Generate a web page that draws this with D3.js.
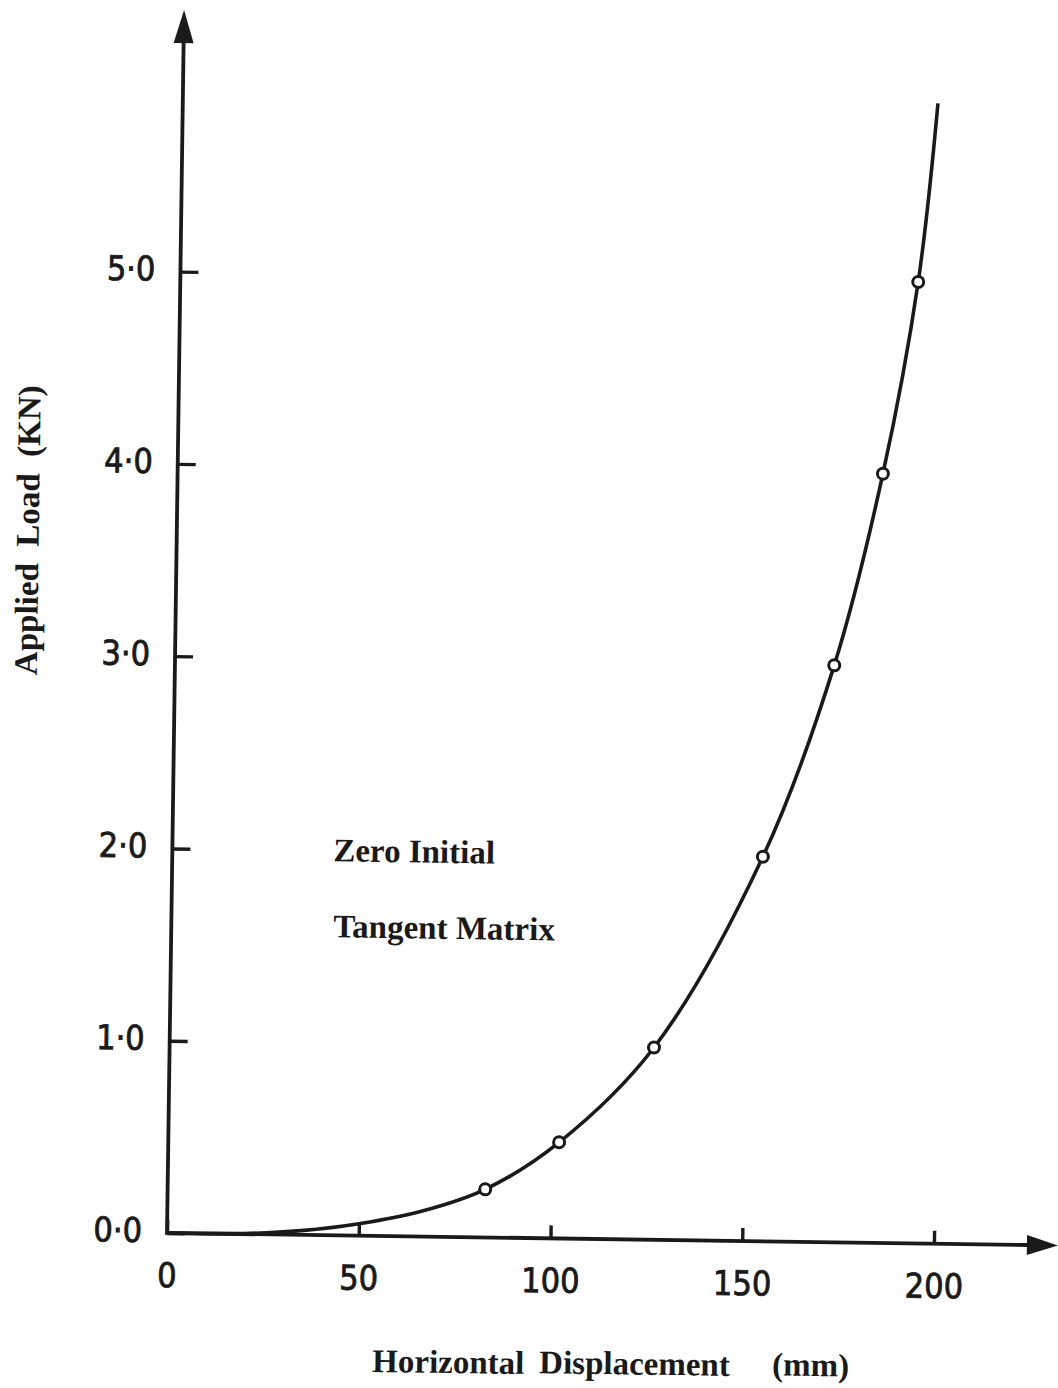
<!DOCTYPE html>
<html>
<head>
<meta charset="utf-8">
<script src="https://cdn.jsdelivr.net/npm/d3@7"></script>
<style>
  body { margin: 0; background: #fff; }
  .tick text { font-family: "Liberation Sans Narrow", "DejaVu Sans Condensed", "DejaVu Sans", sans-serif; font-size: 34px; fill: #1a1a1a; stroke: #1a1a1a; stroke-width: 0.8px; }
  .title { font-family: "Liberation Serif", "Times New Roman", serif; font-weight: bold; font-size: 33px; fill: #1a1a1a; white-space: pre; }
</style>
</head>
<body>
<div id="chart"></div>
<script>
// curve (displacement mm, load KN)
var curveDisp = [0, 20, 35, 50, 66, 82.8, 101.9, 126.3, 154.0, 171.9, 183.9, 192.4, 196.9];
var curveLoad = [0, 0.003, 0.022, 0.062, 0.13, 0.25, 0.5, 1.0, 2.0, 3.0, 4.0, 5.0, 5.93];

// circled solution points
var markerDisp = [82.8, 101.9, 126.3, 154.0, 171.9, 183.9, 192.4];
var markerLoad = [0.25, 0.5, 1.0, 2.0, 3.0, 4.0, 5.0];

var xTicks = [0, 50, 100, 150, 200];
var yTicks = [0, 1, 2, 3, 4, 5];

var svgWidth = 1058;
var svgHeight = 1388;

// origin of the axes on the page; the scanned figure sits slightly rotated
var origin = { x: 167, y: 1233 };
var tilt = 0.8;
var height = 1223;   // axis line length up to the arrow tip
var xAxisLen = 891;  // axis line length to the arrow tip

var ink = "#1a1a1a";

var svg = d3.select("#chart")
  .append("svg")
  .attr("width", svgWidth)
  .attr("height", svgHeight);

svg.append("rect")
  .attr("width", svgWidth)
  .attr("height", svgHeight)
  .attr("fill", "#fff");

var chartGroup = svg.append("g")
  .attr("transform", `translate(${origin.x}, ${origin.y}) rotate(${tilt}) translate(0, ${-height})`);

var xLinearScale = d3.scaleLinear()
  .domain([0, 200])
  .range([0, 767]);

var yLinearScale = d3.scaleLinear()
  .domain([0, 5])
  .range([height, height - 961.5]);

// x axis (ticks point up, labels below)
var bottomAxis = d3.axisBottom(xLinearScale)
  .tickValues(xTicks)
  .tickFormat(d3.format("d"))
  .tickSize(-13)
  .tickSizeOuter(0)
  .tickPadding(30);

var xAxis = chartGroup.append("g")
  .attr("transform", `translate(0, ${height})`)
  .call(bottomAxis);

// y axis (ticks point right, labels left)
var leftAxis = d3.axisLeft(yLinearScale)
  .tickValues(yTicks)
  .tickFormat(d => d3.format(".1f")(d).replace(".", "\u00b7"))
  .tickSize(-18)
  .tickSizeOuter(0)
  .tickPadding(25);

var yAxis = chartGroup.append("g")
  .call(leftAxis);

[xAxis, yAxis].forEach(function(ax) {
  ax.select(".domain").remove();
  ax.selectAll(".tick line").attr("stroke", ink).attr("stroke-width", 3.4);
});
yAxis.selectAll(".tick text").attr("y", -2);

// axis lines with arrow heads
chartGroup.append("path")
  .attr("d", `M0,${height} L${xAxisLen - 30},${height}`)
  .attr("stroke", ink)
  .attr("stroke-width", 3.8)
  .attr("fill", "none");

chartGroup.append("path")
  .attr("d", `M0,${height + 1.9} L0,30`)
  .attr("stroke", ink)
  .attr("stroke-width", 3.8)
  .attr("fill", "none");

chartGroup.append("path")
  .attr("d", `M${xAxisLen},${height} L${xAxisLen - 31},${height - 10} L${xAxisLen - 31},${height + 10} Z`)
  .attr("fill", ink);

chartGroup.append("path")
  .attr("d", `M0,0 L-10,33 L10,33 Z`)
  .attr("fill", ink);

// load-displacement curve
var curveData = curveDisp.map((d, i) => ({ x: d, y: curveLoad[i] }));

var line = d3.line()
  .x(d => xLinearScale(d.x))
  .y(d => yLinearScale(d.y))
  .curve(d3.curveCatmullRom.alpha(0.5));

chartGroup.append("path")
  .datum(curveData)
  .attr("d", line)
  .attr("fill", "none")
  .attr("stroke", ink)
  .attr("stroke-width", 3.6);

var markerData = markerDisp.map((d, i) => ({ x: d, y: markerLoad[i] }));

chartGroup.selectAll("circle")
  .data(markerData)
  .enter()
  .append("circle")
  .attr("cx", d => xLinearScale(d.x))
  .attr("cy", d => yLinearScale(d.y))
  .attr("r", 5.5)
  .attr("fill", "#fff")
  .attr("stroke", ink)
  .attr("stroke-width", 3);

// annotation
chartGroup.append("text")
  .attr("class", "title")
  .attr("x", 161)
  .attr("y", height - 374)
  .text("Zero Initial");

chartGroup.append("text")
  .attr("class", "title")
  .attr("x", 162)
  .attr("y", height - 298)
  .text("Tangent Matrix");

// axis titles
chartGroup.append("text")
  .attr("class", "title")
  .attr("x", 207)
  .attr("y", height + 136)
  .text("Horizontal");

chartGroup.append("text")
  .attr("class", "title")
  .attr("x", 374)
  .attr("y", height + 135)
  .text("Displacement");

chartGroup.append("text")
  .attr("class", "title")
  .attr("x", 607)
  .attr("y", height + 134)
  .text("(mm)");

chartGroup.append("text")
  .attr("class", "title")
  .attr("transform", `translate(-138, ${height - 556}) rotate(-90)`)
  .text("Applied  Load  (KN)");
</script>
</body>
</html>
